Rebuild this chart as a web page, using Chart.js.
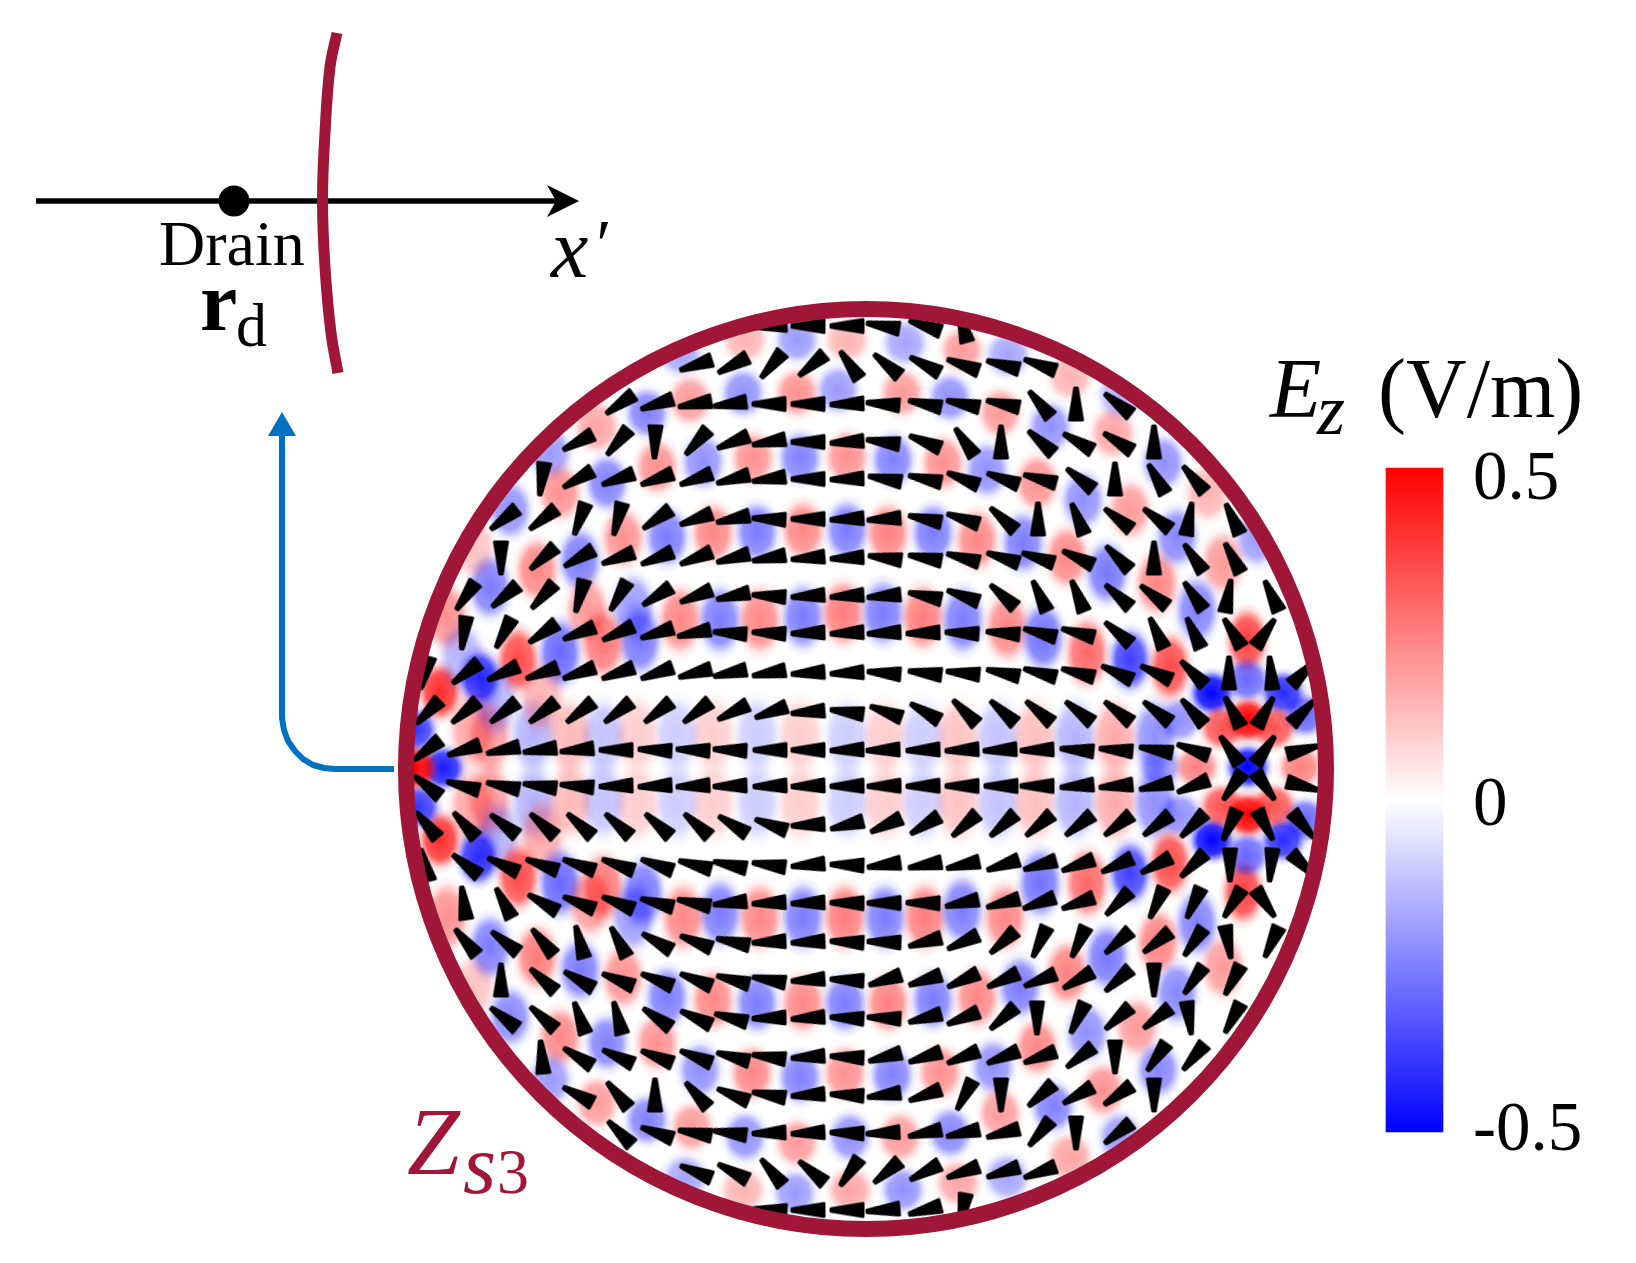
<!DOCTYPE html>
<html>
<head>
<meta charset="utf-8">
<title>Ez field on Zs3</title>
<script src="https://cdn.jsdelivr.net/npm/chart.js@4/dist/chart.umd.min.js"></script>
<style>
  html, body { margin: 0; background: #fff; }
  canvas { display: block; }
</style>
</head>
<body>
<canvas id="fieldChart" width="1636" height="1263"></canvas>
<script>
// everything is in picture units, x to the right and y downwards

// direction field, row by row
const arrowRowY = [326, 365, 404, 442, 479, 519, 558, 596, 633, 673, 712, 750, 786, 825, 865, 903, 942, 980, 1018, 1057, 1095, 1133, 1172, 1210];
const arrowRowX = [
  [770, 808, 847, 883, 925, 963],
  [696, 733, 772, 812, 850, 887, 925, 963, 1003, 1040],
  [620, 657, 695, 730, 769, 808, 847, 883, 925, 963, 1003, 1040, 1076, 1118],
  [578, 618, 655, 697, 733, 769, 808, 847, 883, 925, 965, 1001, 1041, 1078, 1118, 1154],
  [542, 578, 618, 657, 696, 733, 769, 808, 847, 885, 925, 963, 1003, 1040, 1080, 1115, 1157, 1194],
  [504, 543, 580, 618, 657, 696, 733, 769, 808, 847, 884, 925, 963, 1003, 1038, 1078, 1118, 1157, 1189, 1233],
  [501, 543, 579, 618, 657, 696, 733, 769, 808, 847, 885, 925, 963, 1003, 1038, 1078, 1118, 1154, 1194, 1233],
  [466, 505, 543, 580, 619, 657, 696, 733, 769, 808, 847, 884, 925, 963, 1003, 1040, 1078, 1118, 1154, 1194, 1228, 1272],
  [464, 504, 543, 579, 618, 657, 694, 730, 769, 808, 847, 884, 923, 962, 1003, 1040, 1078, 1118, 1157, 1194, 1233, 1265],
  [425, 466, 503, 542, 579, 618, 657, 695, 730, 769, 808, 847, 884, 925, 963, 1003, 1040, 1078, 1117, 1156, 1193, 1229, 1271, 1303],
  [428, 465, 504, 543, 580, 618, 658, 697, 733, 771, 808, 847, 886, 925, 965, 1003, 1039, 1079, 1118, 1157, 1193, 1233, 1265, 1303],
  [427, 464, 503, 540, 577, 616, 655, 693, 730, 770, 808, 847, 883, 923, 962, 1000, 1037, 1077, 1116, 1156, 1193, 1230, 1265, 1303],
  [427, 463, 503, 540, 577, 616, 655, 693, 730, 770, 808, 847, 884, 923, 962, 1001, 1037, 1077, 1116, 1156, 1193, 1233, 1265, 1303],
  [427, 465, 504, 543, 580, 618, 658, 697, 733, 771, 808, 847, 886, 925, 965, 1003, 1039, 1079, 1118, 1157, 1193, 1230, 1265, 1303],
  [425, 466, 503, 542, 579, 618, 657, 695, 730, 769, 808, 847, 884, 925, 963, 1003, 1040, 1078, 1117, 1156, 1193, 1230, 1271, 1303],
  [464, 504, 543, 579, 618, 657, 694, 730, 769, 808, 847, 884, 923, 962, 1003, 1039, 1078, 1118, 1157, 1194, 1233, 1265],
  [466, 505, 543, 580, 619, 657, 696, 733, 769, 808, 847, 884, 925, 963, 1003, 1040, 1079, 1118, 1157, 1194, 1228, 1272],
  [501, 543, 579, 618, 657, 696, 733, 769, 808, 847, 885, 925, 963, 1003, 1040, 1078, 1118, 1154, 1194, 1233],
  [504, 543, 580, 618, 657, 696, 731, 769, 808, 847, 884, 925, 963, 1003, 1037, 1078, 1118, 1157, 1189, 1233],
  [542, 578, 618, 657, 696, 733, 769, 808, 847, 885, 925, 963, 1003, 1040, 1080, 1115, 1157, 1194],
  [578, 618, 655, 697, 733, 769, 808, 847, 884, 925, 965, 1001, 1041, 1078, 1118, 1154],
  [620, 657, 695, 730, 769, 808, 847, 883, 925, 963, 1003, 1040, 1076, 1118],
  [696, 733, 772, 812, 850, 887, 925, 963, 1003, 1040],
  [770, 808, 847, 883, 925, 963]
];
// degrees clockwise from "tip points left"
const arrowRowAngle = [
  [-4, 0, 0, 10, 19, 75],
  [-18, -28, -50, -40, 55, 40, 28, 20, 15, 20],
  [-35, -18, -10, -8, 0, 0, -2, 5, 12, 12, 12, 50, 90, 38],
  [-28, -50, -88, -48, -22, -10, 0, -4, 8, 22, 55, 90, 42, 30, 32, 90],
  [-82, -30, -20, -20, -20, -15, -8, 0, -2, 10, 12, 22, 20, 15, 38, 90, 60, 50],
  [-38, -38, -70, -75, -35, -20, -12, 3, 0, -3, -4, 12, 18, 42, 90, 68, 38, 38, 100, 65],
  [-90, -42, -30, -20, -22, -22, -15, -10, -5, -3, 8, 10, 15, 18, 18, 25, 45, 90, 55, 62],
  [-55, -40, -48, -75, -60, -33, -22, -12, 4, -4, -4, -5, 12, 20, 42, 65, 68, 42, 38, 55, 100, 65],
  [-82, -62, -35, -22, -25, -18, -12, 4, 3, -2, -3, -3, -2, 3, 5, 15, 15, 40, 65, 65, 58, 125],
  [-75, -38, -25, -20, -20, -20, -20, -15, -12, -10, -4, -3, 5, 7, 6, 12, 15, 15, 25, 25, 45, 90, 85, 135],
  [-45, -40, -38, -38, -38, -38, -38, -38, -27, -20, -5, 8, 20, 30, 45, 42, 40, 38, 38, 38, 48, 62, 120, 135],
  [-38, -18, -12, -8, -6, 0, 3, 3, 3, 0, 0, -2, -2, -2, -3, -3, -2, 5, 5, 10, 20, 55, 125, 165],
  [38, 15, 12, 8, 5, -2, -3, -3, -2, -2, -2, -1, -1, -1, 0, 0, 0, -5, -5, -12, -22, -55, -125, -165],
  [50, 48, 38, 42, 42, 42, 42, 42, 32, 20, -3, -14, -25, -32, -42, -42, -40, -38, -38, -38, -45, -65, -118, -130],
  [75, 38, 25, 20, 20, 20, 20, 15, 12, 8, -5, 2, -8, -10, -12, -18, -16, -20, -25, -28, -45, -90, -85, -135],
  [82, 62, 30, 22, 22, 15, 12, -6, -3, -2, 1, 0, 1, -12, -15, -20, -20, -45, -65, -65, -58, -125],
  [50, 38, 50, 75, 62, 30, 22, 12, -3, -3, 3, 2, -15, -25, -42, -65, -65, -42, -38, -55, -100, -65],
  [90, 42, 30, 22, 22, 22, 15, 10, -4, 3, -18, -18, -25, -25, -22, -30, -42, -90, -55, -62],
  [38, 42, 70, 75, 35, 25, 15, -2, -4, 3, 3, -15, -22, -42, -90, -65, -42, -38, -98, -62],
  [85, 32, 25, 22, 22, 15, 8, -4, 3, -15, -18, -22, -22, -20, -38, -90, -55, -50],
  [28, 50, 90, 48, 22, 10, -4, 3, -8, -20, -62, -90, -42, -30, -35, -90],
  [45, 20, 10, 8, -2, -3, 2, -3, -12, -12, -15, -50, -90, -38],
  [22, 28, 50, 40, -55, -40, -28, -20, -18, -20],
  [4, 0, 0, -5, -15, -80]
];

// Ez patches: [x, y, V/m]
const fieldUpper = [
  [680, 353, -0.18], [745, 340, 0.15], [797, 340, -0.2], [847, 340, 0.15], [905, 343, -0.18], [962, 350, 0.2], [1008, 355, -0.18], [1070, 377, 0.15],
  [838, 390, -0.2], [797, 393, 0.22], [743, 393, -0.22], [690, 400, 0.2], [647, 413, -0.25], [597, 427, 0.18], [550, 453, -0.2],
  [902, 393, 0.2], [950, 398, -0.22], [1000, 413, 0.2], [1050, 427, -0.22], [1113, 433, 0.18], [1120, 395, -0.15],
  [800, 458, -0.25], [753, 458, 0.22], [703, 462, -0.22], [657, 467, 0.22], [607, 483, -0.25], [560, 493, 0.22], [510, 510, -0.22],
  [847, 457, 0.22], [893, 460, -0.25], [943, 463, 0.22], [987, 470, -0.22], [1037, 483, 0.22], [1083, 500, -0.22], [1130, 510, 0.2], [1163, 463, -0.22], [1207, 493, 0.15],
  [803, 530, 0.24], [757, 532, -0.26], [713, 533, 0.24], [667, 537, -0.26], [623, 538, 0.22], [580, 560, -0.26], [537, 570, 0.24], [490, 587, -0.26], [473, 547, 0.12],
  [847, 530, -0.26], [888, 533, 0.25], [933, 533, -0.26], [977, 540, 0.24], [1023, 543, -0.26], [1067, 557, 0.24], [1107, 573, -0.27], [1157, 583, 0.24], [1177, 537, -0.24], [1223, 563, 0.2], [1257, 537, -0.2],
  [803, 617, -0.26], [760, 620, 0.24], [720, 620, -0.26], [680, 620, 0.24], [640, 640, -0.27], [603, 643, 0.27], [560, 653, -0.3], [518, 660, 0.36], [480, 678, -0.42], [440, 692, 0.42], [587, 610, 0.2], [633, 607, -0.2], [447, 617, 0.22], [462, 657, -0.15],
  [843, 613, 0.26], [883, 613, -0.26], [923, 617, 0.26], [963, 620, -0.26], [1007, 627, 0.24], [1043, 637, -0.28], [1087, 653, 0.3], [1130, 660, -0.38], [1170, 667, 0.36], [1197, 610, -0.25], [1247, 640, 0.38]
];
const fieldLower = [
  [803, 917, -0.26], [760, 917, 0.24], [720, 913, -0.26], [683, 917, 0.24], [643, 893, -0.27], [603, 887, 0.27], [560, 883, -0.3], [518, 877, 0.36], [478, 857, -0.42], [440, 840, 0.42], [633, 917, -0.2], [590, 903, 0.2], [447, 917, 0.22],
  [537, 957, 0.26], [580, 970, -0.26], [490, 947, -0.26], [623, 977, 0.22], [667, 997, -0.26], [713, 1000, 0.24], [757, 1003, -0.26], [803, 1003, 0.24], [473, 987, 0.12],
  [510, 1017, -0.24], [560, 1037, 0.24], [607, 1043, -0.25], [657, 1043, 0.22], [700, 1070, -0.22], [752, 1073, 0.24], [800, 1077, -0.25], [550, 1080, -0.2],
  [597, 1103, 0.2], [647, 1120, -0.25], [692, 1127, 0.2], [745, 1137, -0.22], [797, 1143, 0.2], [685, 1178, -0.18], [743, 1190, 0.15], [795, 1193, -0.2],
  [845, 917, 0.26], [885, 917, -0.26], [925, 917, 0.26], [962, 910, -0.26], [1005, 917, 0.24], [1040, 883, -0.28], [1087, 883, 0.3], [1130, 873, -0.38], [1170, 863, 0.36],
  [845, 1003, -0.26], [888, 1003, 0.25], [933, 1000, -0.26], [977, 997, 0.24], [1020, 987, -0.26], [1067, 973, 0.25], [1107, 957, -0.27], [1158, 942, 0.25], [1177, 993, -0.24], [1223, 967, 0.2], [1197, 923, -0.25], [1243, 892, 0.38],
  [845, 1073, 0.22], [892, 1075, -0.25], [940, 1072, 0.22], [993, 1067, -0.22], [1037, 1047, 0.24], [1087, 1033, -0.22], [1137, 1027, 0.2], [1158, 1070, -0.24], [1103, 1090, 0.22],
  [850, 1137, -0.22], [900, 1137, 0.2], [950, 1133, -0.24], [1000, 1113, 0.2], [1053, 1107, -0.25], [1070, 1157, 0.18], [1120, 1137, -0.2],
  [850, 1190, 0.18], [903, 1190, -0.22], [958, 1183, 0.18], [1007, 1177, -0.18]
];
const fieldCentre = [
  [800, 735, 0.1], [757, 735, -0.1], [713, 735, 0.1], [677, 735, -0.1], [637, 735, 0.1], [603, 737, -0.12], [570, 737, 0.14], [533, 735, -0.15], [490, 737, 0.2],
  [800, 803, 0.1], [757, 803, -0.1], [713, 803, 0.1], [677, 803, -0.1], [637, 803, 0.1], [603, 801, -0.12], [570, 801, 0.14], [533, 803, -0.15], [490, 801, 0.2],
  [847, 737, -0.1], [885, 737, 0.1], [923, 737, -0.1], [958, 737, 0.12], [998, 737, -0.12], [1035, 737, 0.13], [1075, 737, -0.15], [1115, 737, 0.17], [1155, 737, -0.22],
  [847, 803, -0.1], [885, 803, 0.1], [923, 803, -0.1], [958, 803, 0.12], [998, 803, -0.12], [1035, 803, 0.13], [1075, 803, -0.15], [1115, 803, 0.17], [1155, 803, -0.22],
  [472, 730, 0.18], [472, 807, 0.18], [495, 700, -0.15], [498, 837, -0.15], [542, 697, 0.15], [542, 837, 0.17]
];
// the two focal points have tighter rings, inner patches go last so they stay on top
const fieldSource = [
  [443, 768, -0.45], [415, 730, -0.4], [418, 807, -0.4], [415, 768, 0.5]
];
const fieldDrain = [
  [1212, 693, -0.5], [1283, 693, -0.42], [1212, 840, -0.5], [1283, 840, -0.42], [1247, 680, -0.3], [1247, 855, -0.3],
  [1180, 720, -0.22], [1180, 815, -0.22], [1305, 715, -0.3], [1305, 820, -0.3], [1160, 767, -0.2],
  [1222, 728, 0.34], [1274, 728, 0.34], [1222, 806, 0.34], [1274, 806, 0.34], [1197, 767, 0.25], [1300, 767, 0.25],
  [1248, 720, 0.5], [1248, 815, 0.5], [1248, 767, -0.5]
];

const ringCentre = [866, 769];

const drawnArc = [[337, 33], [330, 67], [325, 133], [322.5, 200], [325, 267], [331, 333], [338, 373]];
const axisLine = [[36, 201], [558, 201]];
const drainPoint = [[234, 201]];
const leadLine = [[394, 769], [335, 769], [324, 768], [313, 765], [303, 759], [295, 751], [288, 741], [284, 730], [282, 718], [282, 432]];

const colorbarValues = [-0.5, 0.52];
const colorbarTicks = [-0.5, 0, 0.5];

const crimson = '#A01636';
const leadBlue = '#0070C0';
const serif = '"Liberation Serif", "Times New Roman", serif';

const textItems = [
  ['Drain', 159, 265, `64px ${serif}`, '#000'],
  ['r', 200, 330, `bold 84px ${serif}`, '#000'],
  ['d', 236, 346, `62px ${serif}`, '#000'],
  ['x', 551, 277, `italic 84px ${serif}`, '#000'],
  ['\u2032', 592, 268, `italic 70px ${serif}`, '#000'],
  ['E', 1270, 417, `italic 84px ${serif}`, '#000'],
  ['z', 1317, 434, `italic 72px ${serif}`, '#000'],
  ['(V/m)', 1378, 417, `84px ${serif}`, '#000'],
  ['Z', 407, 1174, `italic 95px ${serif}`, crimson],
  ['s', 463, 1193, `italic 85px ${serif}`, crimson],
  ['3', 497, 1193, `64px ${serif}`, crimson]
];

function toPoints(list) {
  return list.map(([x, y]) => ({ x, y }));
}

// black wedge with its tip on the left, rotated by the point's angle
function makeWedge() {
  const c = document.createElement('canvas');
  c.width = 38;
  c.height = 19;
  const g = c.getContext('2d');
  g.fillStyle = '#000';
  g.strokeStyle = '#000';
  g.lineJoin = 'round';
  g.lineWidth = 3;
  g.beginPath();
  g.moveTo(3, 8.3);
  g.lineTo(35, 2.9);
  g.lineTo(35, 16.1);
  g.lineTo(3, 10.7);
  g.closePath();
  g.fill();
  g.stroke();
  return c;
}

function makePolygon(w, h, pts, color) {
  const c = document.createElement('canvas');
  c.width = w;
  c.height = h;
  const g = c.getContext('2d');
  g.fillStyle = color;
  g.beginPath();
  pts.forEach(([x, y], i) => (i ? g.lineTo(x, y) : g.moveTo(x, y)));
  g.closePath();
  g.fill();
  return c;
}

// soft red or blue patch, taller near the horizontal midline like the modes in the picture
const patchCache = {};
function fieldPatch(v, y, tight) {
  const t = Math.min(Math.abs(v) / 0.5, 1);
  let rx = 26;
  let ry = 26;
  if (!tight) {
    rx = Math.round(28 - 4 * t);
    ry = Math.round(Math.min(48 - 0.05 * Math.abs(y - ringCentre[1]), 76 - 50 * t));
  }
  const key = `${v.toFixed(2)}_${rx}_${ry}`;
  if (patchCache[key]) return patchCache[key];
  const rgb = v > 0 ? '255,0,0' : '0,0,255';
  const c = document.createElement('canvas');
  c.width = rx * 2;
  c.height = ry * 2;
  const g = c.getContext('2d');
  g.translate(rx, ry);
  g.scale(rx, ry);
  const grad = g.createRadialGradient(0, 0, 0, 0, 0, 1);
  grad.addColorStop(0, `rgba(${rgb},${t})`);
  grad.addColorStop(0.55, `rgba(${rgb},${t * 0.8})`);
  grad.addColorStop(0.82, `rgba(${rgb},${t * 0.16})`);
  grad.addColorStop(1, `rgba(${rgb},0)`);
  g.fillStyle = grad;
  g.fillRect(-1, -1, 2, 2);
  patchCache[key] = c;
  return c;
}

const wedge = makeWedge();
const axisHead = makePolygon(34, 32, [[33, 16], [1, 0], [10, 16], [1, 32]], '#000');
const leadHead = makePolygon(28, 24, [[14, 0], [28, 24], [0, 24]], leadBlue);

const arrowPoints = arrowRowY.flatMap((y, r) =>
  arrowRowX[r].map((x, i) => ({ x, y, angle: arrowRowAngle[r][i] }))
);
const fieldPoints = [
  ...[fieldUpper, fieldCentre, fieldLower].flat().map(([x, y, v]) => ({ x, y, v, tight: false })),
  ...[fieldSource, fieldDrain].flat().map(([x, y, v]) => ({ x, y, v, tight: true }))
];

// field and arrows stop at the cavity wall
const wallClip = {
  id: 'wallClip',
  beforeDatasetDraw(chart, args) {
    if (!chart.data.datasets[args.index].insideWall) return;
    const { x, y } = chart.scales;
    const ctx = chart.ctx;
    ctx.save();
    ctx.beginPath();
    ctx.arc(x.getPixelForValue(ringCentre[0]), y.getPixelForValue(ringCentre[1]), 456, 0, Math.PI * 2);
    ctx.clip();
  },
  afterDatasetDraw(chart, args) {
    if (chart.data.datasets[args.index].insideWall) chart.ctx.restore();
  }
};

const figureText = {
  id: 'figureText',
  afterDatasetsDraw(chart) {
    const { x, y } = chart.scales;
    const ctx = chart.ctx;
    ctx.save();
    ctx.textAlign = 'left';
    ctx.textBaseline = 'alphabetic';
    textItems.forEach(([str, tx, ty, font, color]) => {
      ctx.font = font;
      ctx.fillStyle = color;
      ctx.fillText(str, x.getPixelForValue(tx), y.getPixelForValue(ty));
    });
    ctx.restore();
  }
};

new Chart(document.getElementById('fieldChart'), {
  type: 'scatter',
  plugins: [wallClip, figureText],
  data: {
    // first dataset ends up on top
    datasets: [
      {
        label: 'wall',
        data: toPoints([ringCentre]),
        pointStyle: 'circle',
        pointRadius: 460,
        pointBorderWidth: 16,
        pointBorderColor: crimson,
        pointBackgroundColor: 'rgba(0,0,0,0)'
      },
      {
        label: 'arc',
        type: 'line',
        data: toPoints(drawnArc),
        borderColor: crimson,
        borderWidth: 11,
        tension: 0.4,
        pointRadius: 0
      },
      {
        label: 'arrows',
        insideWall: true,
        data: arrowPoints,
        pointStyle: wedge,
        rotation: (ctx) => (ctx.raw ? ctx.raw.angle : 0)
      },
      {
        label: 'Ez',
        insideWall: true,
        data: fieldPoints,
        pointStyle: (ctx) => (ctx.raw ? fieldPatch(ctx.raw.v, ctx.raw.y, ctx.raw.tight) : 'circle')
      },
      {
        label: 'drain',
        data: toPoints(drainPoint),
        pointStyle: 'circle',
        pointRadius: 15.5,
        pointBackgroundColor: '#000',
        pointBorderWidth: 0
      },
      {
        label: 'x axis',
        type: 'line',
        data: toPoints(axisLine),
        borderColor: '#000',
        borderWidth: 5.5,
        pointRadius: 0
      },
      {
        label: 'x axis head',
        data: [{ x: 563, y: 201 }],
        pointStyle: axisHead
      },
      {
        label: 'lead',
        type: 'line',
        data: toPoints(leadLine),
        borderColor: leadBlue,
        borderWidth: 6,
        borderJoinStyle: 'round',
        pointRadius: 0
      },
      {
        label: 'lead head',
        data: [{ x: 282, y: 424 }],
        pointStyle: leadHead
      },
      {
        label: 'colorbar',
        type: 'bar',
        yAxisID: 'cb',
        data: [{ x: 1414.5, y: colorbarValues }],
        barThickness: 57,
        grouped: false,
        borderSkipped: false,
        backgroundColor: (ctx) => {
          const cb = ctx.chart.scales.cb;
          if (!cb || !ctx.chart.chartArea) return '#fff';
          const top = cb.getPixelForValue(colorbarValues[1]);
          const bottom = cb.getPixelForValue(colorbarValues[0]);
          if (!Number.isFinite(top) || !Number.isFinite(bottom)) return '#fff';
          const grad = ctx.chart.ctx.createLinearGradient(0, top, 0, bottom);
          grad.addColorStop(0, '#ff0000');
          grad.addColorStop(0.5, '#ffffff');
          grad.addColorStop(1, '#0000ff');
          return grad;
        }
      }
    ]
  },
  options: {
    responsive: false,
    animation: false,
    events: [],
    layout: { padding: 0, autoPadding: false },
    elements: { line: { fill: false } },
    plugins: { legend: { display: false }, tooltip: { enabled: false } },
    scales: {
      x: { type: 'linear', display: false, min: 0, max: 1636, offset: false },
      y: { type: 'linear', display: false, min: 0, max: 1263, reverse: true },
      cb: {
        type: 'linear',
        position: 'left',
        min: -0.7012,
        max: 1.2389,
        grid: { display: false },
        border: { display: false },
        afterBuildTicks: (axis) => { axis.ticks = colorbarTicks.map((value) => ({ value })); },
        afterFit: (axis) => {
          axis.width = 0;
          axis.paddingTop = 0;
          axis.paddingBottom = 0;
          axis.paddingLeft = 0;
          axis.paddingRight = 0;
        },
        ticks: {
          mirror: true,
          padding: 1473,
          autoSkip: false,
          color: '#000',
          font: { family: 'Liberation Serif', size: 69 },
          callback: (v) => String(v)
        }
      }
    }
  }
});
</script>
</body>
</html>
